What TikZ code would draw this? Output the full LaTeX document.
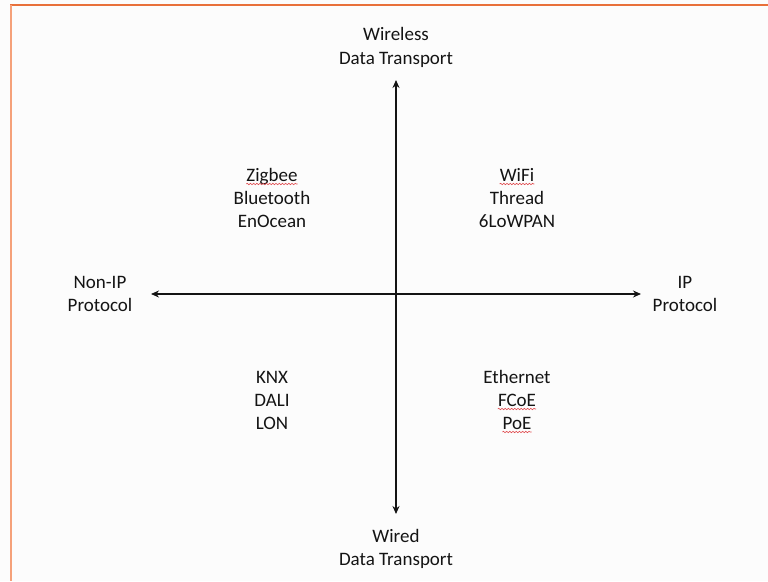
\documentclass[tikz,border=0pt]{standalone}
\usepackage{fontspec}
\setmainfont{Carlito}
\usetikzlibrary{arrows.meta,decorations.pathmorphing}
\definecolor{txt}{HTML}{141414}
\definecolor{frameor}{HTML}{E8703A}
\definecolor{frameorl}{HTML}{F5A17A}
\definecolor{squig}{HTML}{E0484C}
\tikzset{
  lbl/.style={font=\fontsize{19}{23}\selectfont, text=txt, inner sep=0pt, anchor=base},
  axis/.style={line width=2.4pt, draw=txt, {Stealth[length=8pt,width=7pt]}-{Stealth[length=8pt,width=7pt]}},
  wavy/.style={draw=squig, line width=0.6pt, decorate, decoration={snake, segment length=3.2pt, amplitude=0.7pt}}
}
\begin{document}
\begin{tikzpicture}[x=1pt,y=-1pt]
\useasboundingbox (0,0) rectangle (768,581);
\fill[white!99!black] (0,0) rectangle (768,581);
% frame
\draw[frameor, line width=2pt] (10,5) -- (768,5);
\draw[frameorl, line width=2pt] (11,5) -- (11,581);
% axes
\coordinate (L) at (151,294);
\coordinate (R) at (641,294);
\coordinate (T) at (396,80);
\coordinate (B) at (396,514);
\draw[axis] (L) -- (R);
\draw[axis] (T) -- (B);
% axis labels
\node[lbl] (wl1) at (396,40) {Wireless};
\node[lbl] (wl2) at (396,64) {Data Transport};
\node[lbl] (wd1) at (396,542) {Wired};
\node[lbl] (wd2) at (396,565) {Data Transport};
\node[lbl] (ni1) at (100,288) {Non-IP};
\node[lbl] (ni2) at (100,311) {Protocol};
\node[lbl] (ip1) at (685,288) {IP};
\node[lbl] (ip2) at (685,311) {Protocol};
% quadrants
\node[lbl] (zig) at (272,181) {Zigbee};
\node[lbl] (blu) at (272,204) {Bluetooth};
\node[lbl] (eno) at (272,227) {EnOcean};
\node[lbl] (wifi) at (517,181) {WiFi};
\node[lbl] (thr) at (517,204) {Thread};
\node[lbl] (low) at (517,227) {6LoWPAN};
\node[lbl] (knx) at (272,383) {KNX};
\node[lbl] (dali) at (272,406) {DALI};
\node[lbl] (lon) at (272,429) {LON};
\node[lbl] (eth) at (517,383) {Ethernet};
\node[lbl] (fcoe) at (517,406) {FCoE};
\node[lbl] (poe) at (517,429) {PoE};
% spell-check squiggles
\foreach \n in {zig,wifi,fcoe,poe}{
  \draw[wavy] ([yshift=-3pt]\n.base west) -- ([yshift=-3pt]\n.base east);
}
\end{tikzpicture}
\end{document}
